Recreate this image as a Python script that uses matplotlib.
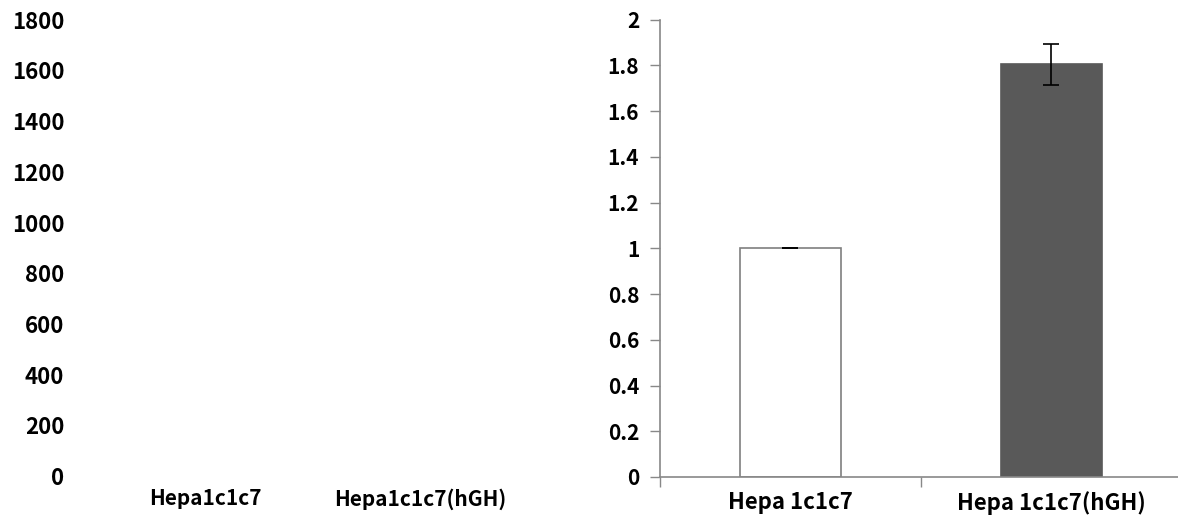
import matplotlib
matplotlib.use("Agg")
import matplotlib.pyplot as plt
import numpy as np

plt.rcParams["font.family"] = ["Noto Sans CJK KR", "DejaVu Sans"]
plt.rcParams["font.weight"] = "bold"

# left panel (empty axis: only labels)
left_cats = ["Hepa1c1c7", "Hepa1c1c7(hGH)"]
left_yticks = [0, 200, 400, 600, 800, 1000, 1200, 1400, 1600, 1800]

# right panel: relative values
right_cats = ["Hepa 1c1c7", "Hepa 1c1c7(hGH)"]
right_vals = [1.0, 1.805]
right_err = [0.0, 0.09]
right_colors = ["white", "#595959"]
right_yticks = [0, 0.2, 0.4, 0.6, 0.8, 1, 1.2, 1.4, 1.6, 1.8, 2]

fig = plt.figure(figsize=(11.78, 5.28), dpi=100)

# ---- left: ghost axis, no spines/ticks ----
axl = fig.add_axes([0.0828, 0.0985, 0.365, 0.864])
axl.set_xlim(0, 2); axl.set_ylim(0, 1800)
axl.set_yticks(left_yticks)
axl.set_yticklabels([str(v) for v in left_yticks], fontsize=16, fontweight="bold")
axl.set_xticks([0.5, 1.5])
axl.set_xticklabels(left_cats, fontsize=15, fontweight="bold")
axl.tick_params(axis="y", length=0, pad=24)
axl.tick_params(axis="x", length=0, pad=9)
for s in axl.spines.values(): s.set_visible(False)
axl.patch.set_alpha(0)

# ---- right: bar chart ----
axr = fig.add_axes([0.5603, 0.0966, 0.4430, 0.866])
x = np.arange(len(right_cats)) + 0.5
axr.bar(x, right_vals, width=0.39, color=right_colors, edgecolor=["#7f7f7f", "#595959"], linewidth=1.2, zorder=2)
axr.errorbar(x, right_vals, yerr=right_err, fmt="none", ecolor="black", elinewidth=1.2, capsize=6, capthick=1.2, zorder=3)
axr.set_xlim(0, 2); axr.set_ylim(0, 2)
axr.set_yticks(right_yticks)
axr.set_yticklabels([f"{v:g}" for v in right_yticks], fontsize=15, fontweight="bold")
axr.set_xticks([0, 1, 2])
axr.set_xticklabels([])
axr.set_xticks(x, minor=True)
axr.set_xticklabels(right_cats, minor=True, fontsize=16, fontweight="bold")
axr.tick_params(axis="x", which="minor", length=0, pad=10)
axr.tick_params(axis="x", which="major", length=7, color="#888888", width=1)
axr.tick_params(axis="y", length=7, color="#888888", width=1, pad=8)
for s in ["top", "right"]: axr.spines[s].set_visible(False)
for s in ["left", "bottom"]:
    axr.spines[s].set_color("#888888"); axr.spines[s].set_linewidth(1.2)

fig.savefig("out.png", dpi=100, facecolor="white")
